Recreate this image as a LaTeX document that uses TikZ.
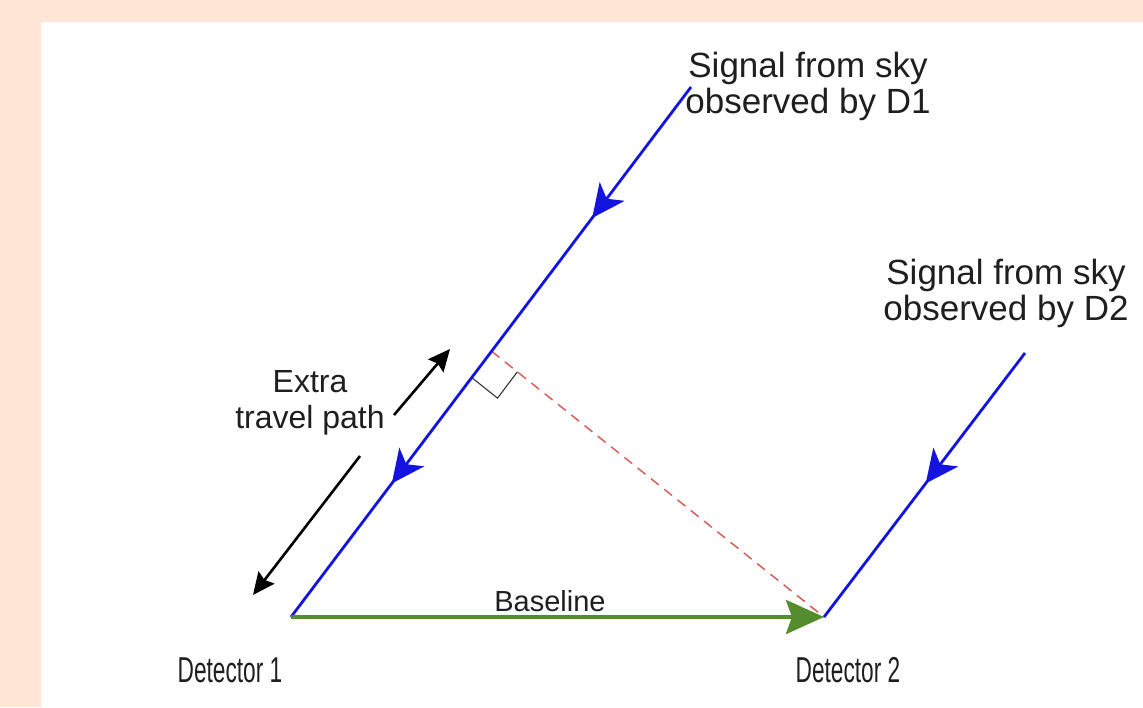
\documentclass[tikz,border=0pt]{standalone}
\usepackage{fontspec}
\setmainfont{Liberation Sans}
\usetikzlibrary{arrows.meta,calc,decorations.markings}
\definecolor{peach}{RGB}{255,230,214}
\definecolor{sigblue}{RGB}{20,20,225}
\definecolor{basegreen}{RGB}{84,140,46}
\definecolor{dashred}{RGB}{215,95,90}
\tikzset{
  lbl/.style={font=\fontsize{35}{36}\selectfont, align=center, inner sep=0pt, text=black!88},
  detlbl/.style={font=\fontsize{36}{38}\selectfont, inner sep=0pt, text=black!88, xscale=0.63},
  signal/.style={draw=sigblue, line width=2.8pt},
  bluetip/.style={decoration={markings,
     mark=at position #1 with {\arrow{Stealth[length=33pt,width=31pt,inset=9pt,sigblue]}}}},
  extraarrow/.style={draw=black, line width=2.6pt, -{Stealth[length=22pt,width=20pt,inset=3pt]}},
  baseline/.style={draw=basegreen, line width=3.8pt, -{Stealth[length=38pt,width=34pt,inset=6pt]}},
  perp/.style={draw=dashred, line width=1.5pt, dash pattern=on 10pt off 7pt},
  rightangle/.style={draw=black!80, line width=1.1pt}
}
\begin{document}
\begin{tikzpicture}[x=1pt,y=-1pt]
  \fill[peach] (0,0) rectangle (1143,707);
  \fill[white] (41,22) rectangle (1143,707);
  \useasboundingbox (0,0) rectangle (1143,707);

  \coordinate (d1) at (291,617);
  \coordinate (d2) at (824,617);
  \coordinate (s1) at (691,87);
  \coordinate (s2) at (1025,353);

  % foot of the dashed line on the D1 signal path
  \coordinate (foot) at ($(d1)!333pt!(s1)$);
  \coordinate (ra) at ($(foot)!33pt!(d1)$);
  \coordinate (rc) at ($(foot)!33pt!(d2)$);
  \coordinate (rb) at ($(ra)+(rc)-(foot)$);

  \draw[perp] (foot) -- (d2);
  \draw[rightangle] (ra) -- (rb) -- (rc);

  % signal lines
  \draw[signal, postaction={decorate, bluetip=0.247}, postaction={decorate, bluetip=0.748}] (s1) -- (d1);
  \draw[signal, postaction={decorate, bluetip=0.494}] (s2) -- (d2);

  % baseline
  \draw[baseline] (d1) -- (d2);

  % extra travel path arrows
  \coordinate (e1a) at (394,415);
  \coordinate (e1b) at (450,349);
  \coordinate (e2a) at (360,456);
  \coordinate (e2b) at (253,595);
  \draw[extraarrow] (e1a) -- (e1b);
  \draw[extraarrow] (e2a) -- (e2b);

  % labels
  \node[lbl] (sig1) at (808,86) {Signal from sky\\observed by D1};
  \node[lbl] (sig2) at (1006,293) {Signal from sky\\observed by D2};
  \node[lbl, font=\fontsize{32}{36}\selectfont] (extra) at (310,403) {Extra\\travel path};
  \node[lbl, font=\fontsize{29}{34}\selectfont] (base) at (550,601) {Baseline};
  \node[detlbl] (det1) at (230,670) {Detector 1};
  \node[detlbl] (det2) at (848,670) {Detector 2};
\end{tikzpicture}
\end{document}
